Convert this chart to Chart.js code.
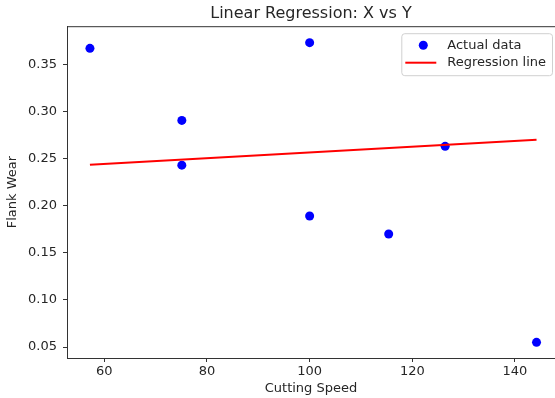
<!DOCTYPE html>
<html>
<head>
<meta charset="utf-8">
<script src="https://cdn.jsdelivr.net/npm/chart.js@4.4.0/dist/chart.umd.min.js"></script>
<style>
    html, body { margin: 0; padding: 0; background: #fff; overflow: hidden; }
    #wrap { width: 555px; height: 398px; }
</style>
</head>
<body>
<div id="wrap"><canvas id="regChart" width="555" height="398"></canvas></div>
<script>
// data
const cuttingSpeed = [57.2, 75.1, 75.1, 100, 100, 115.4, 126.4, 144.2];
const flankWear = [0.367, 0.2905, 0.243, 0.373, 0.189, 0.170, 0.263, 0.055];
const lineSpeed = [57.2, 144.2];
const lineWear = [0.2435, 0.270];
const xTicks = [60, 80, 100, 120, 140];
const yTicks = [0.05, 0.10, 0.15, 0.20, 0.25, 0.30, 0.35];

const FONT = "'DejaVu Sans', 'Liberation Sans', sans-serif";
const TEXT = '#262626';
const SPINE = '#333333';

// legend drawn inside the plot, top right (matplotlib style)
const insideLegend = {
    id: 'insideLegend',
    afterDatasetsDraw(chart) {
        const ctx = chart.ctx;
        const area = chart.chartArea;
        ctx.save();
        ctx.font = '13px ' + FONT;
        let textW = 0;
        chart.data.datasets.forEach(ds => {
            textW = Math.max(textW, ctx.measureText(ds.label).width);
        });
        const w = 46 + textW + 6;
        const h = 42;
        const right = area.right - 3;
        const left = right - w;
        const top = area.top + 7;

        ctx.fillStyle = 'rgba(255,255,255,0.85)';
        ctx.strokeStyle = '#d0d0d0';
        ctx.lineWidth = 1;
        ctx.beginPath();
        ctx.roundRect(left + 0.5, top + 0.5, w, h, 3);
        ctx.fill();
        ctx.stroke();

        chart.data.datasets.forEach((ds, i) => {
            const y = top + 12 + i * 17.5;
            if (ds.type === 'line') {
                ctx.strokeStyle = ds.borderColor;
                ctx.lineWidth = 2;
                ctx.beginPath();
                ctx.moveTo(left + 4, y);
                ctx.lineTo(left + 35, y);
                ctx.stroke();
            } else {
                ctx.fillStyle = ds.backgroundColor;
                ctx.beginPath();
                ctx.arc(left + 22, y, 4.5, 0, Math.PI * 2);
                ctx.fill();
            }
            ctx.fillStyle = TEXT;
            ctx.textBaseline = 'middle';
            ctx.textAlign = 'left';
            ctx.fillText(ds.label, left + 46, y);
        });
        ctx.restore();
    }
};

// top spine
const topSpine = {
    id: 'topSpine',
    afterDraw(chart) {
        const ctx = chart.ctx;
        const a = chart.chartArea;
        ctx.save();
        ctx.strokeStyle = SPINE;
        ctx.lineWidth = 1;
        ctx.beginPath();
        ctx.moveTo(a.left, a.top + 0.5);
        ctx.lineTo(a.right, a.top + 0.5);
        ctx.stroke();
        ctx.restore();
    }
};

const ctx = document.getElementById('regChart').getContext('2d');
const regChart = new Chart(ctx, {
    type: 'scatter',
    data: {
        datasets: [{
            type: 'scatter',
            label: 'Actual data',
            data: cuttingSpeed.map((x, i) => ({ x: x, y: flankWear[i] })),
            backgroundColor: '#0000ff',
            borderWidth: 0,
            pointRadius: 4.5,
            pointHoverRadius: 4.5,
            order: 2
        }, {
            type: 'line',
            label: 'Regression line',
            data: lineSpeed.map((x, i) => ({ x: x, y: lineWear[i] })),
            borderColor: '#ff0000',
            backgroundColor: '#ff0000',
            borderWidth: 2,
            pointRadius: 0,
            fill: false,
            order: 1
        }]
    },
    options: {
        responsive: false,
        animation: false,
        devicePixelRatio: 1,
        layout: { padding: 0, autoPadding: false },
        plugins: {
            legend: { display: false },
            tooltip: { enabled: false },
            title: {
                display: true,
                text: 'Linear Regression: X vs Y',
                fullSize: false,
                color: TEXT,
                font: { family: FONT, size: 16, weight: 'normal' },
                padding: { top: 4, bottom: 3 }
            }
        },
        scales: {
            x: {
                type: 'linear',
                min: 52.73,
                max: 147.8,
                afterFit: s => { s.height = 40; s.paddingRight = 0; s.paddingLeft = 0; },
                afterBuildTicks: s => { s.ticks = xTicks.map(v => ({ value: v })); },
                grid: {
                    display: true,
                    drawOnChartArea: false,
                    drawTicks: true,
                    tickLength: 4,
                    tickColor: SPINE
                },
                border: { display: true, color: SPINE, width: 1 },
                ticks: {
                    color: TEXT,
                    padding: 2,
                    maxRotation: 0,
                    font: { family: FONT, size: 13 }
                },
                title: {
                    display: true,
                    text: 'Cutting Speed',
                    color: TEXT,
                    font: { family: FONT, size: 13 },
                    padding: { top: 2, bottom: 2 }
                }
            },
            y: {
                type: 'linear',
                min: 0.03835,
                max: 0.3905,
                afterFit: s => { s.width = 67; },
                afterBuildTicks: s => { s.ticks = yTicks.map(v => ({ value: v })); },
                grid: {
                    display: true,
                    drawOnChartArea: false,
                    drawTicks: true,
                    tickLength: 4,
                    tickColor: SPINE
                },
                border: { display: true, color: SPINE, width: 1 },
                ticks: {
                    color: TEXT,
                    padding: 6,
                    font: { family: FONT, size: 13 },
                    callback: v => Number(v).toFixed(2)
                },
                title: {
                    display: true,
                    text: 'Flank Wear',
                    color: TEXT,
                    font: { family: FONT, size: 13 },
                    padding: { top: 5, bottom: 5 }
                }
            }
        }
    },
    plugins: [insideLegend, topSpine]
});
</script>
</body>
</html>
